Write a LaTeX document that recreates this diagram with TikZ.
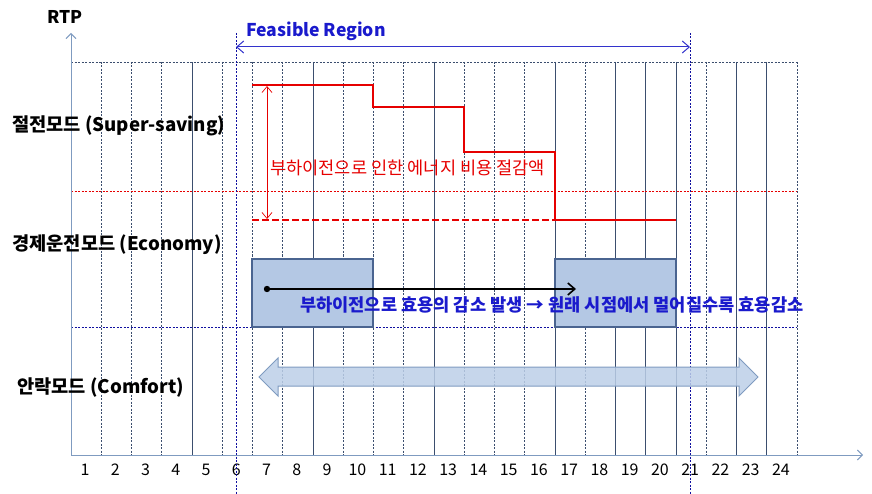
\documentclass[tikz,border=0pt]{standalone}
\usepackage{fontspec}
\setmainfont{Noto Sans CJK KR}
\usetikzlibrary{arrows.meta}
\definecolor{gridc}{HTML}{3B4E6E}
\definecolor{axisc}{HTML}{7F9BC0}
\definecolor{redc}{HTML}{E60000}
\definecolor{bluet}{HTML}{1A1ACC}
\definecolor{feasc}{HTML}{3333CC}
\definecolor{feasdash}{HTML}{1010A0}
\definecolor{boxfill}{HTML}{B4C8E4}
\definecolor{boxline}{HTML}{4A6490}
\definecolor{fatfill}{HTML}{BCCFE8}
\definecolor{fatline}{HTML}{7F9BC0}
\tikzset{
  gsolid/.style={gridc, line width=0.8pt},
  gdash/.style={gridc, line width=0.7pt, dash pattern=on 2pt off 1.5pt},
  axisline/.style={axisc, line width=0.9pt, -{Straight Barb[length=5pt,width=10pt]}},
  modelabel/.style={anchor=west, font=\fontsize{18.7}{20}\selectfont\bfseries, inner sep=0pt},
  num/.style={font=\fontsize{16}{18}\selectfont, inner sep=0pt},
  redstep/.style={redc, line width=2.6pt},
  modebox/.style={draw=boxline, fill=boxfill, line width=1.4pt, minimum width=121pt, minimum height=68pt, inner sep=0pt},
}
\begin{document}
\begin{tikzpicture}[x=1pt,y=-1pt]
\useasboundingbox (0,0) rectangle (872,494);
% grid
\foreach \k in {4,8,12,16,18,19,20,22,23}
  \draw[gsolid] ({71+30.25*\k},62) -- ({71+30.25*\k},455);
\foreach \k in {1,2,3,5,6,7,9,10,11,13,14,15,17,21,24}
  \draw[gdash] ({71+30.25*\k},62) -- ({71+30.25*\k},455);
\draw[gdash] (71,62) -- (797,62);
\draw[redc, line width=0.6pt, dash pattern=on 2pt off 1.5pt] (71,191) -- (797,191);
\draw[feasdash, line width=0.7pt, dash pattern=on 2pt off 1.5pt] (71,327) -- (797,327);
% axes
\coordinate (o) at (71,455);
\coordinate (ytop) at (71,33);
\coordinate (xend) at (863,455);
\draw[axisline] (o) -- (ytop);
\draw[axisline] (o) -- (xend);
\node[font=\fontsize{17.5}{19}\selectfont\bfseries, inner sep=0pt] (rtp) at (65,17) {RTP};
% numbers
\foreach \k in {1,...,24}
  \node[num] (n\k) at ({71+30.25*(\k-0.5)-1},470) {\k};
% feasible region
\draw[feasdash, line width=0.8pt, dash pattern=on 2pt off 1.5pt] (236,33) -- (236,494);
\draw[feasdash, line width=0.8pt, dash pattern=on 2pt off 1.5pt] (690,33) -- (690,494);
\coordinate (fl) at (236,47);
\coordinate (fr) at (690,47);
\draw[feasc, line width=1pt, {Straight Barb[length=7pt,width=12pt]}-{Straight Barb[length=7pt,width=12pt]}] (fl) -- (fr);
\node[anchor=west, text=bluet, font=\fontsize{17.6}{19}\selectfont\bfseries, inner sep=0pt] (feas) at (246,31) {Feasible Region};
% mode labels
\node[modelabel] (ss) at (12,126) {절전모드 (Super-saving)};
\node[modelabel] (ec) at (12,245) {경제운전모드 (Economy)};
\node[modelabel] (cf) at (17,388) {안락모드 (Comfort)};
% red steps
\draw[redstep] (252,85) -- (373,85) -- (373,107) -- (464,107) -- (464,152) -- (555,152) -- (555,220) -- (676,220);
\draw[redc, line width=2.4pt, dash pattern=on 7pt off 3pt] (252,220) -- (555,220);
\coordinate (rt) at (267,86);
\coordinate (rb) at (267,219);
\draw[redc, line width=0.7pt, {Straight Barb[length=6pt,width=10pt]}-{Straight Barb[length=6pt,width=10pt]}] (rt) -- (rb);
\node[anchor=west, text=redc, font=\fontsize{17.6}{19}\selectfont, inner sep=0pt] (save) at (270,168) {부하이전으로 인한 에너지 비용 절감액};
% boxes
\node[modebox] (b1) at (312.5,293) {};
\node[modebox] (b2) at (615.5,293) {};
\coordinate (d0) at (267,289);
\coordinate (d1) at (576,289);
\fill (d0) circle (3.2pt);
\draw[black, line width=1.6pt, -{Straight Barb[length=7pt,width=12pt]}] (d0) -- (d1);
\node[anchor=west, text=bluet, font=\fontsize{17.6}{19}\selectfont\bfseries, inner sep=0pt] (loss) at (300,305) {부하이전으로 효용의 감소 발생 → 원래 시점에서 멀어질수록 효용감소};
% fat double arrow
\draw[fatline, fill=fatfill, fill opacity=0.85, line width=1pt] (259,377) -- (278,358) -- (278,367) -- (739,367) -- (739,358) -- (758,377) -- (739,396) -- (739,386) -- (278,386) -- (278,396) -- cycle;
\end{tikzpicture}
\end{document}
